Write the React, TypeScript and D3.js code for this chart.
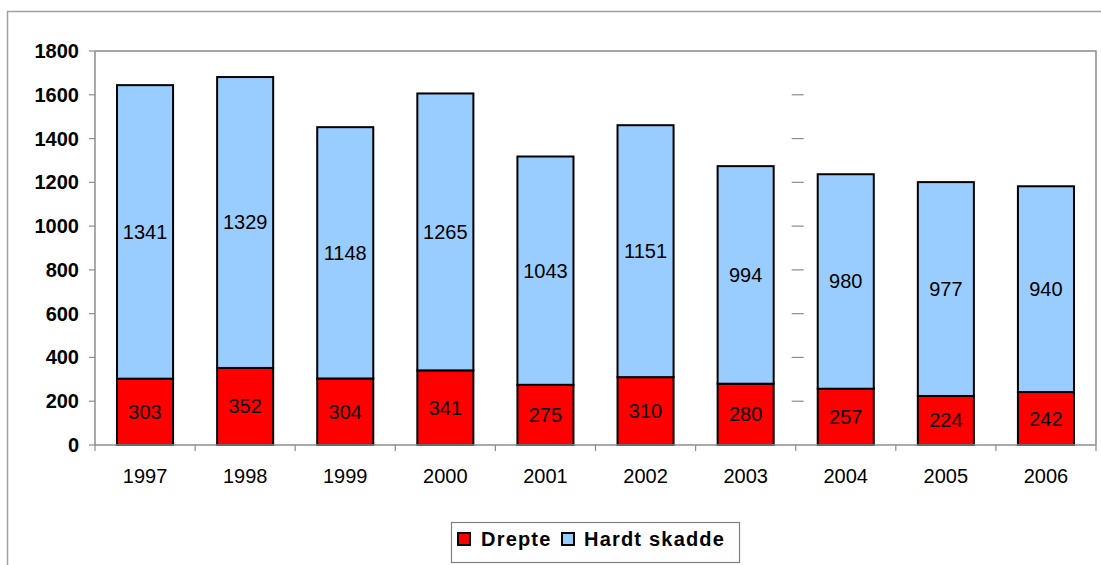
import React from "react";
import * as d3 from "d3";

const years = ["1997", "1998", "1999", "2000", "2001", "2002", "2003", "2004", "2005", "2006"];
const drepte = [303, 352, 304, 341, 275, 310, 280, 257, 224, 242];
const hardtSkadde = [1341, 1329, 1148, 1265, 1043, 1151, 994, 980, 977, 940];
const yTicks = [0, 200, 400, 600, 800, 1000, 1200, 1400, 1600, 1800];
const seriesNames = ["Drepte", "Hardt skadde"];
const seriesColors = ["#FF0000", "#99CCFF"];

const W = 1101, H = 565;
const M = { left: 95, right: 1096, top: 51, bottom: 445 };
const FONT = "Arial, 'Liberation Sans', Helvetica, sans-serif";

export default function App() {
  const x = d3.scaleBand<string>().domain(years).range([M.left, M.right]).paddingInner(0.44).paddingOuter(0.22);
  const xb = d3.scaleBand<string>().domain(years).range([M.left, M.right]);
  const y = d3.scaleLinear().domain([0, 1800]).range([M.bottom, M.top]);
  const rows = years.map((yr, i) => ({ yr, d: drepte[i], h: hardtSkadde[i] }));
  const stack = d3.stack<any>().keys(["d", "h"])(rows as any);
  const strayX = (xb("2004") as number);
  const grey = "#8c8c8c";

  return (
    <svg width={W} height={H} style={{ position: "absolute", left: 0, top: 0 }} fontFamily={FONT}>
      <rect x={0} y={0} width={W} height={H} fill="#fff" />
      <rect x={7.5} y={11.5} width={1200} height={700} fill="none" stroke="#a0a0a0" strokeWidth={1.5} />
      {/* plot area border top/right */}
      <path d={`M${M.left},${M.top}H${M.right}V${M.bottom}`} fill="none" stroke={grey} strokeWidth={1.5} />
      {/* stray gridline fragments */}
      {yTicks.filter(t => t > 0 && t < 1800).map(t => (
        <line key={"s" + t} x1={strayX - 4} x2={strayX + 8} y1={y(t)} y2={y(t)} stroke={grey} strokeWidth={1.2} />
      ))}
      {/* bars */}
      {stack.map((s, si) => (
        <g key={si}>
          {s.map((seg: any, i: number) => (
            <rect key={i} x={x(years[i])} y={y(seg[1])} width={x.bandwidth()} height={y(seg[0]) - y(seg[1])}
              fill={seriesColors[si]} stroke="#000" strokeWidth={2} />
          ))}
        </g>
      ))}
      {/* value labels */}
      {stack.map((s, si) => (
        <g key={"l" + si}>
          {s.map((seg: any, i: number) => (
            <text key={i} x={(x(years[i]) as number) + x.bandwidth() / 2} y={(y(seg[0]) + y(seg[1])) / 2}
              textAnchor="middle" dominantBaseline="central" fontSize={20} fill="#000">
              {si === 0 ? drepte[i] : hardtSkadde[i]}
            </text>
          ))}
        </g>
      ))}
      {/* y axis */}
      <line x1={M.left} x2={M.left} y1={M.top} y2={M.bottom} stroke={grey} strokeWidth={1.5} />
      {yTicks.map(t => (
        <g key={t}>
          <line x1={M.left - 6} x2={M.left} y1={y(t)} y2={y(t)} stroke={grey} strokeWidth={1.2} />
          <text x={79} y={y(t)} textAnchor="end" dominantBaseline="central" fontSize={20} fontWeight="bold">{t}</text>
        </g>
      ))}
      {/* x axis */}
      <line x1={M.left} x2={M.right} y1={M.bottom} y2={M.bottom} stroke={grey} strokeWidth={1.5} />
      {years.concat(["end"]).map((yr, i) => {
        const bx = i < years.length ? (xb(yr) as number) : M.right;
        return <line key={"t" + i} x1={bx} x2={bx} y1={M.bottom} y2={M.bottom + 6} stroke={grey} strokeWidth={1.2} />;
      })}
      {years.map(yr => (
        <text key={yr} x={(xb(yr) as number) + xb.bandwidth() / 2} y={483} textAnchor="middle" fontSize={20}>{yr}</text>
      ))}
      {/* legend */}
      <rect x={451.5} y={522.5} width={288} height={40} fill="#fff" stroke="#808080" strokeWidth={1.2} />
      <rect x={458} y={533} width={12} height={12} fill={seriesColors[0]} stroke="#000" strokeWidth={2} />
      <text x={481} y={539} dominantBaseline="central" fontSize={20} fontWeight="bold" letterSpacing={1.2}>{seriesNames[0]}</text>
      <rect x={562} y={533} width={12} height={12} fill={seriesColors[1]} stroke="#000" strokeWidth={2} />
      <text x={584} y={539} dominantBaseline="central" fontSize={20} fontWeight="bold" letterSpacing={1.2}>{seriesNames[1]}</text>
    </svg>
  );
}
